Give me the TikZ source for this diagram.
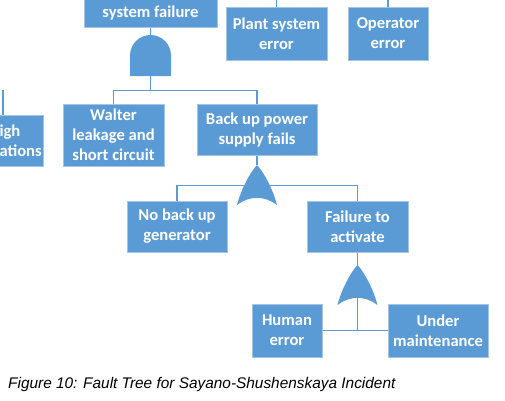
\documentclass[tikz,border=0pt]{standalone}
\usepackage{fontspec}
\setmainfont{Carlito}
\newfontfamily\capfont{Liberation Sans}
\usetikzlibrary{positioning}
\definecolor{FTBlue}{RGB}{91,155,213}
\definecolor{FTEdge}{RGB}{165,196,228}

\tikzset{
andgate/.pic={
\fill[FTBlue] (-20.5,-41) -- (-20.5,-20.5) arc[start angle=180,end angle=0,radius=20.5] -- (20.5,-41) -- cycle;
},
orgate/.pic={
\fill[FTBlue] (0,0) .. controls (-6,-6) and (-16,-24) .. (-20,-40)
 .. controls (-8,-30.5) and (8,-30.5) .. (20,-40)
 .. controls (16,-24) and (6,-6) .. (0,0) -- cycle;
}
}

\begin{document}
\begin{tikzpicture}[
x=1pt,y=1pt,
box/.style={
rectangle,draw=FTEdge,line width=1pt,fill=FTBlue,text=white,
align=center,inner sep=0pt,font=\bfseries\fontsize{16.6}{20}\selectfont
},
link/.style={draw=FTBlue,line width=1.5pt}
]
\useasboundingbox (0,0) rectangle (505,-400);
\clip (0,0) rectangle (505,-400);

\node[box,minimum width=133pt,minimum height=48pt] (sysfail) at (150.5,-3) {\strut\\\strut system failure};

\node[box,minimum width=101pt,minimum height=53pt] (plant) at (276.5,-33.5) {Plant system\\error};

\node[box,minimum width=80pt,minimum height=53pt] (operator) at (388,-33.5) {Operator\\error};

\node[box,minimum width=80pt,minimum height=51pt] (leftcut) at (3,-140.5) {};
\node[box,draw=none,fill=none,align=left,anchor=west] (leftcuttext) at (-1,-140.5) {igh\\ations};

\node[box,minimum width=101pt,minimum height=62pt] (walter) at (113.5,-135) {Walter\\leakage and\\short circuit};

\node[box,minimum width=120pt,minimum height=51pt] (backup) at (257,-129.5) {Back up power\\supply fails};

\node[box,minimum width=100pt,minimum height=51pt] (nobackup) at (177,-226.5) {No back up\\generator};

\node[box,minimum width=101pt,minimum height=51pt] (failure) at (357.5,-226.5) {Failure to\\activate};

\node[box,minimum width=70pt,minimum height=53pt] (human) at (287,-330.5) {Human\\error};

\node[box,minimum width=100pt,minimum height=53pt] (under) at (438,-330.5) {Under\\maintenance};

\coordinate (and1) at (150.5,-35);
\coordinate (and1out) at (150.5,-76);
\coordinate (or1) at (257,-165);
\coordinate (or2) at (357.5,-265);
\coordinate (leftbar) at (3,-90);

% connectors
\draw[link] (sysfail.south) -- (and1);
\draw[link] (and1out) -- ++(0,-15);
\draw[link] (walter.north) -- ++(0,13) -| (backup.north);
\draw[link] (leftcut.north) -- (leftbar);
\draw[link] (plant.north) -- ++(0,10);
\draw[link] (operator.north) -- ++(0,10);
\draw[link] (backup.south) -- (or1);
\draw[link] (nobackup.north) -- ++(0,15) -| (failure.north);
\draw[link] (failure.south) -- (or2);
\draw[link] (or2) |- (human.east);
\draw[link] (human.east) -- (under.west);

% gates
\pic at (and1) {andgate};
\pic at (or1) {orgate};
\pic at (or2) {orgate};

\node[font=\capfont\itshape\fontsize{15.4}{18}\selectfont,anchor=base west,inner sep=0pt] (caption) at (8,-388) {Figure 10: Fault Tree for Sayano-Shushenskaya Incident};

\end{tikzpicture}
\end{document}
